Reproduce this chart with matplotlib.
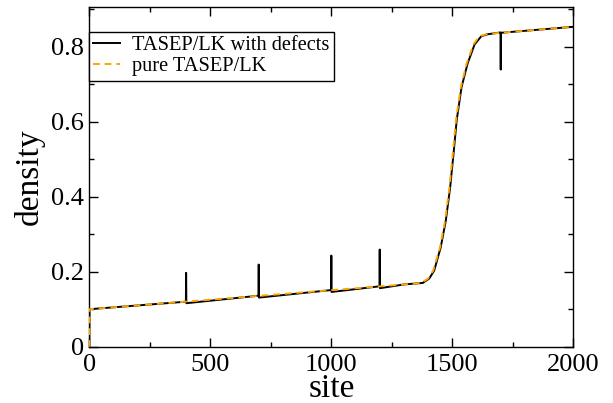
import matplotlib
matplotlib.use("Agg")
import matplotlib.pyplot as plt
from matplotlib.ticker import MultipleLocator

plt.rcParams['font.family'] = ['Liberation Serif', 'DejaVu Serif']

# pure TASEP/LK profile
pure_site = [0, 1, 1300, 1373, 1400, 1421, 1449, 1470, 1488, 1502, 1515,
             1535, 1559, 1587, 1612, 1640, 1697, 2000]
pure_dens = [0.0, 0.100, 0.166, 0.170, 0.182, 0.203, 0.265, 0.336, 0.425,
             0.515, 0.604, 0.692, 0.755, 0.806, 0.828, 0.833, 0.837, 0.853]

# TASEP/LK with defects
def_site = [0, 1, 399, 400, 401, 699, 700, 701, 999, 1000, 1001, 1199, 1200,
            1201, 1300, 1378, 1405, 1425, 1452, 1473, 1491, 1505, 1518, 1538,
            1563, 1592, 1620, 1645, 1699, 1700, 1701, 2000]
def_dens = [0.0, 0.100, 0.120, 0.197, 0.116, 0.136, 0.219, 0.131, 0.151,
            0.243, 0.146, 0.161, 0.259, 0.156, 0.166, 0.170, 0.182, 0.203,
            0.265, 0.336, 0.425, 0.515, 0.604, 0.692, 0.755, 0.806, 0.828,
            0.833, 0.838, 0.739, 0.837, 0.853]

xticks = [0, 500, 1000, 1500, 2000]
yticks = [0, 0.2, 0.4, 0.6, 0.8]
ytick_labels = ["0", "0.2", "0.4", "0.6", "0.8"]

fig = plt.figure(figsize=(6.13, 4.03), dpi=100)
ax = fig.add_axes([0.1457, 0.1397, 0.7896, 0.8422])

ax.plot(def_site, def_dens, color='black', lw=1.4,
        label='TASEP/LK with defects', zorder=2)
ax.plot(pure_site, pure_dens, color='#FFA500', lw=1.4, dashes=(3.5, 2.5),
        label='pure TASEP/LK', zorder=3)

ax.set_xlim(0, 2000)
ax.set_ylim(0, 0.905)
ax.set_xticks(xticks)
ax.set_xticklabels([str(t) for t in xticks])
ax.set_yticks(yticks)
ax.set_yticklabels(ytick_labels)
ax.xaxis.set_minor_locator(MultipleLocator(250))
ax.yaxis.set_minor_locator(MultipleLocator(0.1))

ax.tick_params(which='both', direction='in', top=True, right=True,
               labelsize=19, color='black', width=1.0)
ax.tick_params(which='major', length=6.5)
ax.tick_params(axis='x', which='major', pad=5)
ax.tick_params(axis='y', which='major', pad=4)
ax.tick_params(which='minor', length=3.6)
for s in ax.spines.values():
    s.set_linewidth(1.0)

ax.set_xlabel('site', fontsize=24, labelpad=-1.5)
ax.set_ylabel('density', fontsize=24, labelpad=4)

leg = ax.legend(loc='upper left', bbox_to_anchor=(0.0, 0.928),
                borderaxespad=0, fontsize=14.7, frameon=True, fancybox=False,
                handlelength=1.3, handletextpad=0.6, borderpad=0.2,
                labelspacing=0.1)
leg.get_frame().set_edgecolor('black')
leg.get_frame().set_linewidth(1.0)
leg.get_frame().set_alpha(1)

fig.savefig('out.png', dpi=100)
